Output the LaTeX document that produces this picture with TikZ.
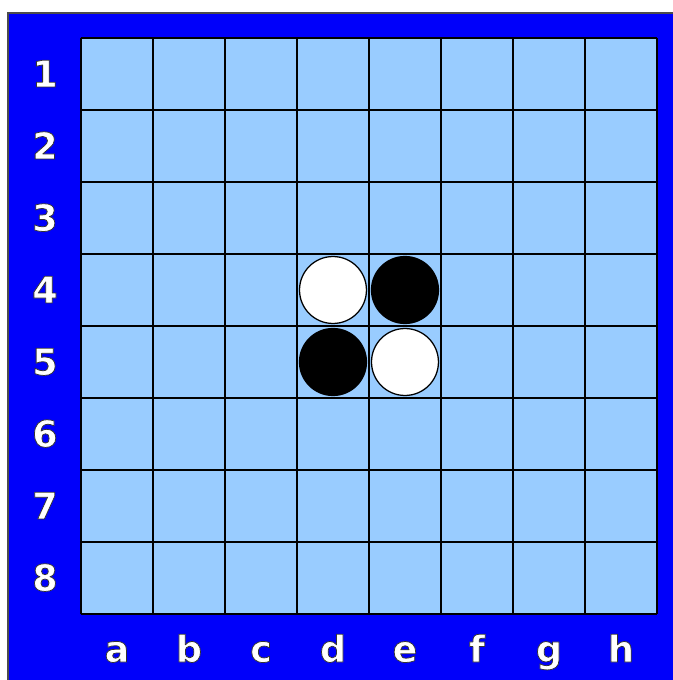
\documentclass[tikz,border=0pt]{standalone}
\usepackage{fontspec}
\newfontfamily\rotulofonte{DejaVu Sans Bold}
\usepackage{xcolor}
\definecolor{azulcasa}{RGB}{153,204,255}
\definecolor{azulmoldura}{RGB}{0,0,250}
% texto branco com contorno escuro
\newcommand{\contornado}[1]{\special{pdf:literal direct 2 Tr 1 j 0.3 w 0.2 0.2 0.2 RG}#1\special{pdf:literal direct 0 Tr}}

\begin{document}
\begin{tikzpicture}[y=-1cm,
    rotulo/.style={text=white, anchor=base, font=\rotulofonte\fontsize{14.5}{15}\selectfont},
    pedra/.style={circle, minimum size=0.93cm, inner sep=0pt, draw=black, line width=0.5pt},
    branca/.style={pedra, fill=white},
    preta/.style={pedra, fill=black}]
    % Moldura
    \useasboundingbox[fill=white] (-1.125,-0.528) rectangle (8.222,8.917);
    \fill[azulmoldura, draw=black!70, line width=0.6pt] (-1.014,-0.347) rectangle (8.4,9.1);
    
    % Tabuleiro
    \fill[azulcasa] (0,0) rectangle (8,8);
    \draw[line width=0.7pt] (0,0) grid (8,8);
    
    % Linhas e colunas
    \foreach \n in {1,...,8}
        \node[rotulo] (n\n) at (-0.5, \n-0.32) {\contornado{\n}};
    \foreach \l [count=\i] in {a,b,c,d,e,f,g,h}
        \node[rotulo] (c\l) at (\i-0.5, 8.667) {\contornado{\l}};
    
    % Pecas iniciais
    \node[branca] (d4) at (3.5, 3.5) {};
    \node[preta]  (e4) at (4.5, 3.5) {};
    \node[preta]  (d5) at (3.5, 4.5) {};
    \node[branca] (e5) at (4.5, 4.5) {};
\end{tikzpicture}
\end{document}
